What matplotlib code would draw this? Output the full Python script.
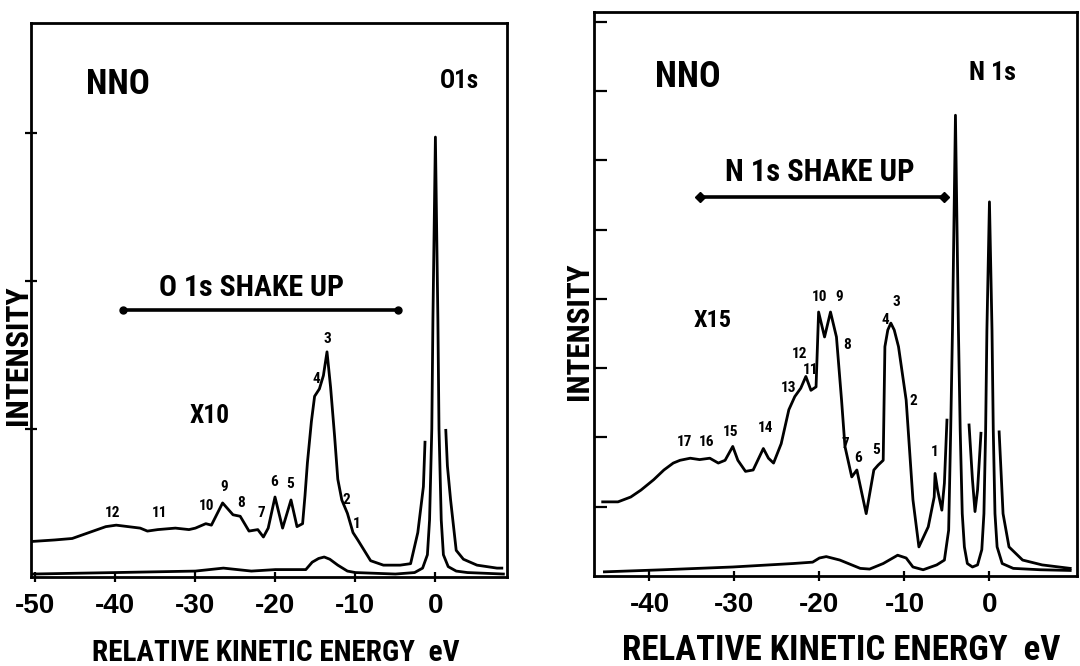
import os
import matplotlib
matplotlib.use('Agg')
import matplotlib.pyplot as plt
from matplotlib import font_manager
from matplotlib.font_manager import FontProperties


# fuente estrecha tipo rotulado (si hay alguna condensada instalada)
def buscar_condensada():
    archivos = [f.fname for f in font_manager.fontManager.ttflist]
    prefer = ['liberationsansnarrow-bold', 'robotocondensed-bold', 'opensans-condbold',
              'notosans-condensedbold', 'dejavusanscondensed-bold']
    for p in prefer:
        for fn in archivos:
            if os.path.basename(fn).lower().startswith(p):
                return fn
    for fn in archivos:
        b = os.path.basename(fn).lower()
        if ('cond' in b or 'narrow' in b) and 'bold' in b and 'italic' not in b and 'oblique' not in b:
            return fn
    return None


ruta = buscar_condensada()
if ruta:
    FP = FontProperties(fname=ruta)
else:
    FP = FontProperties(family=['Liberation Sans', 'DejaVu Sans'], weight='bold')
FPD = FontProperties(family=['Liberation Sans', 'DejaVu Sans'], weight='bold')

# ---------------- O1s (panel izquierdo) ----------------
o_e_x10a = [-50.4, -47.6, -45.4, -43.3, -41.2, -39.9, -36.9, -36.0, -34.7, -32.5, -30.8, -30.0,
            -28.7, -28.0, -26.6, -25.3, -24.4, -23.3, -22.2, -21.5, -20.9, -20.05,
            -19.1, -18.05, -17.3, -16.6, -16.3, -16.0, -15.5, -15.1, -14.5, -14.0,
            -13.55, -13.1, -12.6, -12.2, -11.7, -11.0, -10.3, -9.7, -8.1, -6.5,
            -4.4, -3.1, -2.2, -1.5, -1.3]
o_i_x10a = [0.24, 0.25, 0.26, 0.30, 0.34, 0.35, 0.33, 0.31, 0.32, 0.33, 0.32, 0.33,
            0.36, 0.35, 0.50, 0.42, 0.41, 0.31, 0.32, 0.27, 0.33, 0.54,
            0.33, 0.52, 0.34, 0.36, 0.55, 0.77, 1.05, 1.22, 1.27, 1.36,
            1.52, 1.28, 0.95, 0.66, 0.52, 0.43, 0.30, 0.25, 0.11, 0.08,
            0.08, 0.09, 0.30, 0.61, 0.91]
o_e_x10b = [1.3, 1.5, 1.9, 2.6, 3.5, 5.2, 7.7, 8.3]
o_i_x10b = [0.99, 0.75, 0.52, 0.18, 0.12, 0.08, 0.06, 0.06]

o_e_x1 = [-50.4, -40, -30, -26.5, -23, -20, -16.2, -15.4, -14.6, -13.9,
          -13.2, -12.2, -11.0, -10.0, -5.0, -2.6, -1.6, -1.0, -0.73, -0.45,
          -0.31, 0.0, 0.31, 0.45, 0.73, 1.0, 1.6, 2.6, 4.0, 8.5]
o_i_x1 = [0.02, 0.03, 0.04, 0.06, 0.04, 0.05, 0.05, 0.10, 0.125, 0.135,
          0.12, 0.08, 0.04, 0.03, 0.02, 0.03, 0.06, 0.15, 0.385, 1.0,
          1.74, 2.97, 1.74, 1.0, 0.385, 0.15, 0.07, 0.04, 0.03, 0.02]

o_pk_txt = ['12', '11', '10', '9', '8', '7', '6', '5', '4', '3', '2', '1']
o_pk_e = [-40.4, -34.5, -28.6, -26.4, -24.25, -21.75, -20.1, -18.1, -14.9, -13.5, -11.1, -9.85]
o_pk_i = [0.43, 0.43, 0.48, 0.61, 0.50, 0.43, 0.64, 0.63, 1.34, 1.61, 0.52, 0.36]

o_shake = [-39.0, -4.7]   # extremos de la flecha "O 1s SHAKE UP"

# ---------------- N1s (panel derecho) ----------------
n_e_x15a = [-45.5, -43.7, -42.2, -41.0, -39.5, -38.3, -37.2, -36.4, -35.2, -34.1, -32.9, -31.9, -31.1,
            -30.2, -29.6, -28.7, -27.8, -26.6, -26.0, -25.4, -24.5, -23.6, -22.9,
            -22.2, -21.6, -21.0, -20.4, -20.1, -19.4, -18.7, -18.0, -17.4, -17.0,
            -16.2, -15.6, -14.5, -13.6, -13.1, -12.5, -12.3, -11.96, -11.6, -11.2,
            -10.7, -9.8, -9.0, -8.3, -7.2, -6.5, -6.4, -6.1, -5.6, -5.3, -5.0]
n_i_x15a = [1.07, 1.07, 1.14, 1.24, 1.39, 1.53, 1.63, 1.67, 1.70, 1.68, 1.70, 1.63, 1.67,
            1.87, 1.67, 1.51, 1.53, 1.84, 1.70, 1.63, 1.91, 2.40, 2.59,
            2.71, 2.88, 2.68, 2.73, 3.81, 3.45, 3.81, 3.45, 2.54, 1.87,
            1.43, 1.53, 0.90, 1.53, 1.60, 1.67, 3.31, 3.55, 3.65, 3.55,
            3.31, 2.54, 1.10, 0.42, 0.71, 1.14, 1.48, 1.24, 0.95, 1.34, 2.25]
n_e_x15b = [-2.4, -2.0, -1.7, -1.4, -1.0]
n_i_x15b = [2.18, 1.39, 0.93, 1.24, 2.06]
n_e_x15c = [1.14, 1.6, 2.3, 3.9, 6.2, 9.5]
n_i_x15c = [2.08, 0.90, 0.42, 0.23, 0.16, 0.11]

n_e_x1 = [-45.3, -38.4, -30.2, -23.1, -20.8, -20.0, -19.2, -17.6, -15.2, -14.1,
          -12.5, -10.8, -9.8, -9.0, -7.8, -6.2, -5.3, -4.8, -4.56, -4.35,
          -4.0, -3.65, -3.44, -3.2, -2.95, -2.6, -2.0, -1.4, -0.9, -0.65,
          -0.45, -0.3, 0.0, 0.3, 0.45, 0.65, 0.9, 1.5, 2.8, 6.0, 9.5]
n_i_x1 = [0.06, 0.09, 0.13, 0.18, 0.20, 0.26, 0.28, 0.23, 0.11, 0.10,
          0.18, 0.30, 0.26, 0.13, 0.09, 0.16, 0.23, 0.66, 2.1, 3.55,
          6.65, 3.55, 2.1, 0.9, 0.42, 0.18, 0.13, 0.16, 0.38, 0.9,
          2.1, 3.55, 5.40, 3.55, 2.1, 0.9, 0.42, 0.18, 0.11, 0.09, 0.08]

n_pk_txt = ['17', '16', '15', '14', '13', '12', '11', '10', '9', '8', '7', '6', '5', '4', '3', '2', '1']
n_pk_e = [-35.9, -33.3, -30.5, -26.4, -23.6, -22.3, -21.0, -20.0, -17.7, -16.8, -16.9, -15.4, -13.3, -12.3, -11.0, -8.9, -6.5]
n_pk_i = [1.94, 1.94, 2.08, 2.13, 2.71, 3.21, 2.97, 4.03, 4.03, 3.33, 1.91, 1.70, 1.82, 3.69, 3.96, 2.52, 1.79]

n_shake = [-34.1, -5.3]

W, H = 1080, 666
fig = plt.figure(figsize=(W / 100, H / 100), dpi=100)
fig.patch.set_facecolor('white')

LW = 2.0
K = 'black'
ajustes = []   # (texto, tamano en px, 'w' o 'h')


def marco(ax, xlim, ylim, xticks, yticks, ydir):
    ax.set_xlim(*xlim)
    ax.set_ylim(*ylim)
    for s in ax.spines.values():
        s.set_linewidth(2.0)
        s.set_color(K)
    ax.set_xticks(xticks)
    ax.set_xticklabels([str(t) for t in xticks], fontproperties=FPD, fontsize=20)
    ax.tick_params(axis='x', direction='inout', length=7, width=1.6, pad=8)
    ax.set_yticks(yticks)
    ax.set_yticklabels([])
    ax.tick_params(axis='y', direction=ydir, length=9, width=1.6)


def rotulo(ax, x, y, s, ancho=None, size=10):
    t = ax.text(x, y, s, ha='center', va='center', fontproperties=FP, fontsize=size)
    if ancho:
        ajustes.append((t, ancho, 'w'))
    return t


# ---- panel izquierdo ----
axL = fig.add_axes([31.4 / W, (H - 577) / H, (506.6 - 31.4) / W, (577 - 23) / H])
marco(axL, (-50.5, 8.9), (0, 3.74), [-50, -40, -30, -20, -10, 0], [1, 2, 3], 'inout')
axL.plot(o_e_x10a, o_i_x10a, color=K, lw=LW, solid_joinstyle='round')
axL.plot(o_e_x10b, o_i_x10b, color=K, lw=LW, solid_joinstyle='round')
axL.plot(o_e_x1, o_i_x1, color=K, lw=LW, solid_joinstyle='round')
for t, e, i in zip(o_pk_txt, o_pk_e, o_pk_i):
    rotulo(axL, e, i, t, size=11)
axL.plot(o_shake, [1.80, 1.80], color=K, lw=2.6, marker='o', ms=5)
rotulo(axL, -23.0, 1.95, 'O 1s SHAKE UP', ancho=185, size=20)
rotulo(axL, -28.2, 1.09, 'X10', ancho=40, size=20)

# ---- panel derecho ----
axR = fig.add_axes([594.2 / W, (H - 576) / H, (1077 - 594.2) / W, (576 - 12) / H])
marco(axR, (-46.5, 10.3), (0, 8.14), [-40, -30, -20, -10, 0], [1, 2, 3, 4, 5, 6, 7, 8], 'in')
axR.plot(n_e_x15a, n_i_x15a, color=K, lw=LW, solid_joinstyle='round')
axR.plot(n_e_x15b, n_i_x15b, color=K, lw=LW, solid_joinstyle='round')
axR.plot(n_e_x15c, n_i_x15c, color=K, lw=LW, solid_joinstyle='round')
axR.plot(n_e_x1, n_i_x1, color=K, lw=LW, solid_joinstyle='round')
for t, e, i in zip(n_pk_txt, n_pk_e, n_pk_i):
    rotulo(axR, e, i, t, size=11)
axR.plot(n_shake, [5.47, 5.47], color=K, lw=2.6, marker='D', ms=5)
rotulo(axR, -20.0, 5.83, 'N 1s SHAKE UP', ancho=190, size=21)
rotulo(axR, -32.6, 3.69, 'X15', ancho=38, size=20)


# ---- textos de figura (posiciones en pixeles de la imagen) ----
def ftext(x, y, s, medida, eje='w', rot=0):
    t = fig.text(x / W, 1 - y / H, s, ha='center', va='center', fontproperties=FP,
                 fontsize=20, rotation=rot)
    ajustes.append((t, medida, eje))


ftext(118, 85, 'NNO', 64)
ftext(459, 81, 'O1s', 39)
ftext(688, 77, 'NNO', 66)
ftext(992, 73, 'N 1s', 47)
ftext(18, 355, 'INTENSITY', 140, eje='h', rot=90)
ftext(579, 331, 'INTENSITY', 138, eje='h', rot=90)
ftext(276, 653, 'RELATIVE KINETIC ENERGY  eV', 368)
ftext(841, 650, 'RELATIVE KINETIC ENERGY  eV', 438)

# ajustar cada rotulo grande a la medida que tiene en la figura original
renderer = fig.canvas.get_renderer()
for t, medida, eje in ajustes:
    bb = t.get_window_extent(renderer)
    actual = bb.width if eje == 'w' else bb.height
    t.set_fontsize(t.get_fontsize() * medida / actual)

fig.savefig('out.png', dpi=100, facecolor='white')
